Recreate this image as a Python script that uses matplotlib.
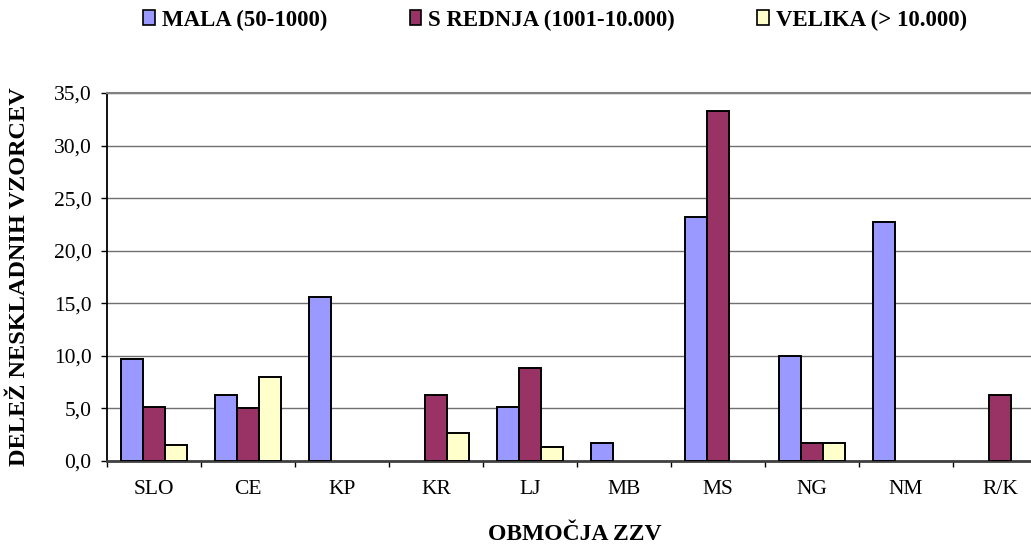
import matplotlib.pyplot as plt
import numpy as np
from matplotlib.patches import Patch

# shares of non-compliant samples per region, by water supply size
regions = ['SLO', 'CE', 'KP', 'KR', 'LJ', 'MB', 'MS', 'NG', 'NM', 'R/K']
mala = [9.7, 6.3, 15.6, 0.0, 5.1, 1.7, 23.2, 10.0, 22.7, 0.0]
srednja = [5.1, 5.0, 0.0, 6.3, 8.8, 0.0, 33.3, 1.7, 0.0, 6.3]
velika = [1.5, 8.0, 0.0, 2.7, 1.3, 0.0, 0.0, 1.7, 0.0, 0.0]
series_names = ['MALA (50-1000)', 'S REDNJA (1001-10.000)', 'VELIKA (> 10.000)']
colors = ['#9999FF', '#993366', '#FFFFCC']
yticks = [0, 5, 10, 15, 20, 25, 30, 35]

plt.rcParams['font.family'] = ['Liberation Serif', 'DejaVu Serif']

W, H = 1031, 545
fig = plt.figure(figsize=(W / 100, H / 100), dpi=100)
ax = fig.add_axes([107 / W, 1 - 461 / H, 940 / W, 368 / H])

x = np.arange(len(regions))
w = 0.234
for i, (vals, c) in enumerate(zip([mala, srednja, velika], colors)):
    vals = np.array(vals)
    keep = vals > 0  # zero bars are not drawn in the original
    ax.bar(x[keep] + (i - 1) * w, vals[keep], width=w, color=c,
           edgecolor='black', linewidth=1.4, zorder=3)

ax.set_xlim(-0.5, len(regions) - 0.5)
ax.set_ylim(0, 35)
ax.set_yticks(yticks)
ax.set_yticklabels([f'{v:.1f}'.replace('.', ',') for v in yticks], fontsize=15.5)
ax.grid(axis='y', color='#707070', linewidth=1.0, zorder=0)

# category separators as major ticks, names as minor ticks
ax.set_xticks(np.arange(-0.5, len(regions), 1.0))
ax.set_xticklabels([])
ax.set_xticks(x, minor=True)
ax.set_xticklabels(regions, minor=True, fontsize=15.5)
ax.tick_params(axis='x', which='major', length=4, width=1.0, direction='out')
ax.tick_params(axis='x', which='minor', length=0, pad=14)
ax.tick_params(axis='y', length=4, width=1.0, pad=7)

ax.spines['right'].set_visible(False)
ax.spines['top'].set_color('#808080')
ax.spines['top'].set_linewidth(1.5)
ax.spines['left'].set_linewidth(1.3)
ax.spines['bottom'].set_color('#404040')
ax.spines['bottom'].set_linewidth(2.0)

fig.text(20 / W, 1 - 277 / H, 'DELEŽ NESKLADNIH VZORCEV', rotation=90,
         ha='center', va='center', fontsize=17.5, fontweight='bold')
fig.text(575 / W, 1 - 535 / H, 'OBMOČJA ZZV', ha='center', va='center',
         fontsize=17, fontweight='bold')

handles = [Patch(facecolor=c, edgecolor='black', linewidth=1.2) for c in colors]
fig.legend(handles, series_names, loc='center', ncol=3, frameon=False,
           bbox_to_anchor=(555 / W, 1 - 20 / H),
           prop={'size': 16.5, 'weight': 'bold'},
           handlelength=0.5, handleheight=0.6, handletextpad=0.3,
           columnspacing=3.6)

fig.savefig('out.png', dpi=100)
